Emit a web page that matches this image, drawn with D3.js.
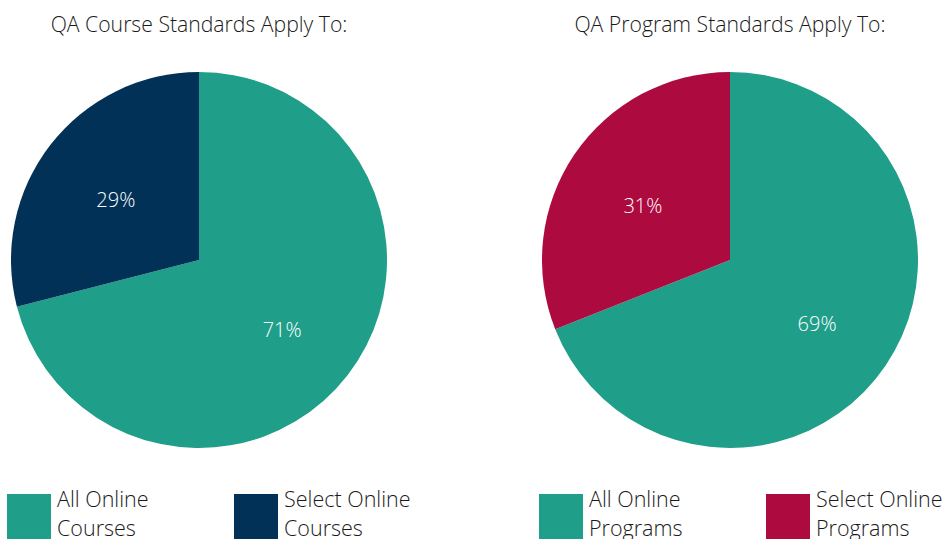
<!DOCTYPE html>
<html><head><meta charset="utf-8">
<script src="https://cdn.jsdelivr.net/npm/d3@7"></script>
<style>body{margin:0;background:#fff;} svg{display:block;} text{font-family:"Open Sans","Lato",sans-serif;font-weight:300;}</style>
</head><body>
<svg id="c" width="945" height="539"></svg>
<script>
const titles = ["QA Course Standards Apply To:", "QA Program Standards Apply To:"];
const categoriesCourse = ["All Online Courses", "Select Online Courses"];
const valuesCourse = [71, 29];
const categoriesProgram = ["All Online Programs", "Select Online Programs"];
const valuesProgram = [69, 31];
const colorsCourse = ["#1f9e89", "#023157"];
const colorsProgram = ["#1f9e89", "#ad0b3f"];

const svg = d3.select("#c");
const charts = [
  {title: titles[0], cats: categoriesCourse, vals: valuesCourse, cols: colorsCourse, cx: 199, legX: [7, 234]},
  {title: titles[1], cats: categoriesProgram, vals: valuesProgram, cols: colorsProgram, cx: 730, legX: [539, 766]}
];
const cy = 260, R = 188;
const pie = d3.pie().sort(null).value(d => d);
const arc = d3.arc().innerRadius(0).outerRadius(R);
const labelArc = d3.arc().innerRadius(R*0.56).outerRadius(R*0.56);

charts.forEach(ch => {
  svg.append("text").attr("x", ch.cx).attr("y", 32).attr("text-anchor", "middle")
    .attr("font-size", 21.2).attr("fill", "#1a1a1a").text(ch.title);
  const g = svg.append("g").attr("transform", `translate(${ch.cx},${cy})`);
  const arcs = pie(ch.vals);
  g.selectAll("path").data(arcs).join("path").attr("d", arc).attr("fill", (d,i) => ch.cols[i]);
  g.selectAll("text.lbl").data(arcs).join("text").attr("class","lbl")
    .attr("transform", d => `translate(${labelArc.centroid(d)})`)
    .attr("text-anchor","middle").attr("dy","0.6em").attr("font-size", 20).attr("fill","#fff")
    .text(d => d.data + "%");
  ch.cats.forEach((c, i) => {
    const x = ch.legX[i];
    svg.append("rect").attr("x", x).attr("y", 494).attr("width", 44).attr("height", 50).attr("fill", ch.cols[i]);
    const words = c.split(" ");
    const t = svg.append("text").attr("x", x + 50).attr("y", 507).attr("font-size", 21.5).attr("fill", "#1a1a1a");
    t.append("tspan").attr("x", x + 50).text(words.slice(0,2).join(" "));
    t.append("tspan").attr("x", x + 50).attr("dy", 29).text(words.slice(2).join(" "));
  });
});
</script>
</body></html>
